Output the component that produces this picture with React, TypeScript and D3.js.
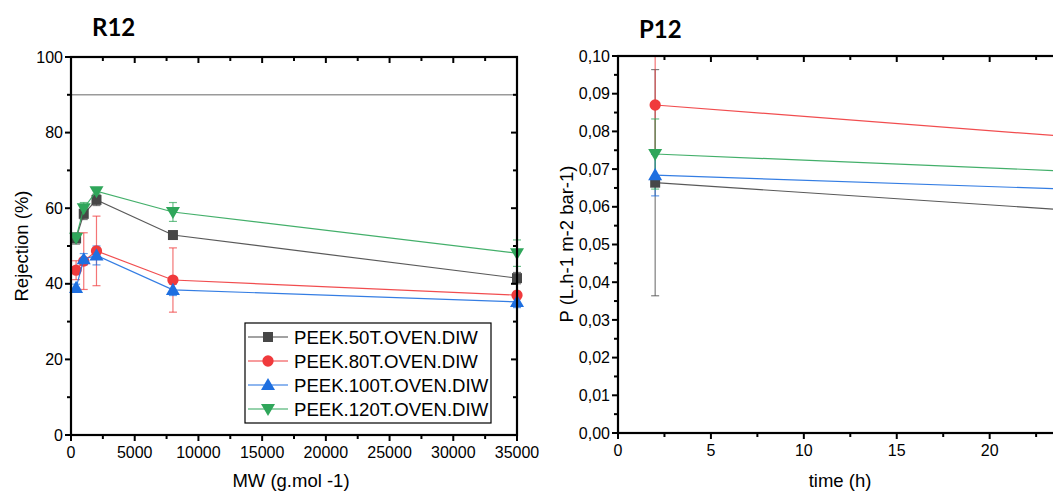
import React from "react";
import * as d3 from "d3";

// ---------- data ----------
const seriesNames = ["PEEK.50T.OVEN.DIW", "PEEK.80T.OVEN.DIW", "PEEK.100T.OVEN.DIW", "PEEK.120T.OVEN.DIW"];
const seriesColors = ["#474747", "#f03a3c", "#1e6fe0", "#2fa65a"];
const seriesShapes = ["square", "circle", "triangleUp", "triangleDown"];

const mw = [400, 1000, 2000, 8000, 35000];
const rej50 = [52, 58.5, 62.2, 52.9, 41.5];
const rej80 = [43.6, 46, 48.7, 41, 37];
const rej100 = [38.9, 46.5, 47.5, 38.4, 35.2];
const rej120 = [52.2, 60, 64.5, 59, 48.1];
const err50 = [1.5, 1.5, 1.5, 0.8, 1.5];
const err80 = [2.5, 7.5, 9.2, 8.5, 1];
const err100 = [1, 1.5, 2.5, 1.5, 1.5];
const err120 = [1.2, 1.5, 0.8, 2.5, 3.5];
const rejLimit = 90;

const time = [2, 24];
const perm50 = [0.0664, 0.0592];
const perm80 = [0.087, 0.0787];
const perm100 = [0.0684, 0.0647];
const perm120 = [0.074, 0.0695];
const permErr50 = [0.03, 0];
const permErr80 = [0.013, 0];
const permErr100 = [0.0055, 0];
const permErr120 = [0.0093, 0];

const rejTicks = [0, 20, 40, 60, 80, 100];
const mwTicks = [0, 5000, 10000, 15000, 20000, 25000, 30000, 35000];
const permTicks = [0, 0.01, 0.02, 0.03, 0.04, 0.05, 0.06, 0.07, 0.08, 0.09, 0.1];
const timeTicks = [0, 5, 10, 15, 20];

const rejSeries = [rej50, rej80, rej100, rej120];
const rejErrs = [err50, err80, err100, err120];
const permSeries = [perm50, perm80, perm100, perm120];
const permErrs = [permErr50, permErr80, permErr100, permErr120];

const FONT = "'Liberation Sans', Arial, sans-serif";

function Marker({ shape, x, y, color }: { shape: string; x: number; y: number; color: string }) {
  if (shape === "square") {
    const p = d3.symbol().type(d3.symbolSquare).size(100)();
    return <path d={p || ""} transform={`translate(${x},${y})`} fill={color} />;
  }
  if (shape === "circle") {
    const p = d3.symbol().type(d3.symbolCircle).size(100)();
    return <path d={p || ""} transform={`translate(${x},${y})`} fill={color} />;
  }
  const p = d3.symbol().type(d3.symbolTriangle).size(85)();
  const rot = shape === "triangleDown" ? 180 : 0;
  return <path d={p || ""} transform={`translate(${x},${y + (rot ? -1 : 1)}) rotate(${rot})`} fill={color} />;
}

type AxisProps = {
  x: d3.ScaleLinear<number, number>;
  y: d3.ScaleLinear<number, number>;
  xTicks: number[];
  yTicks: number[];
  xFmt: (v: number) => string;
  yFmt: (v: number) => string;
};

function Frame({ x, y, xTicks, yTicks, xFmt, yFmt }: AxisProps) {
  const [x0, x1] = x.range();
  const [y0, y1] = y.range(); // y0 bottom, y1 top
  const xStep = xTicks[1] - xTicks[0];
  const yStep = yTicks[1] - yTicks[0];
  const xMinor: number[] = [];
  for (let v = xTicks[0] + xStep / 2; v <= x.domain()[1] + 1e-9; v += xStep) xMinor.push(v);
  const yMinor: number[] = [];
  for (let v = yTicks[0] + yStep / 2; v <= y.domain()[1] + 1e-9; v += yStep) yMinor.push(v);
  return (
    <g>
      {xTicks.map((v) => (
        <line key={"bx" + v} x1={x(v)} x2={x(v)} y1={y0} y2={y0 + 6} stroke="#000" strokeWidth={2} />
      ))}
      {xMinor.map((v) => (
        <line key={"bxm" + v} x1={x(v)} x2={x(v)} y1={y0} y2={y0 + 4} stroke="#000" strokeWidth={2} />
      ))}
      {xTicks.map((v) => (
        <line key={"tx" + v} x1={x(v)} x2={x(v)} y1={y1} y2={y1 + 6} stroke="#000" strokeWidth={2} />
      ))}
      {xMinor.map((v) => (
        <line key={"txm" + v} x1={x(v)} x2={x(v)} y1={y1} y2={y1 + 4} stroke="#000" strokeWidth={2} />
      ))}
      {yTicks.map((v) => (
        <line key={"ly" + v} x1={x0 - 6} x2={x0} y1={y(v)} y2={y(v)} stroke="#000" strokeWidth={2} />
      ))}
      {yMinor.map((v) => (
        <line key={"lym" + v} x1={x0 - 4} x2={x0} y1={y(v)} y2={y(v)} stroke="#000" strokeWidth={2} />
      ))}
      {yTicks.map((v) => (
        <line key={"ry" + v} x1={x1 - 6} x2={x1} y1={y(v)} y2={y(v)} stroke="#000" strokeWidth={2} />
      ))}
      {yMinor.map((v) => (
        <line key={"rym" + v} x1={x1 - 4} x2={x1} y1={y(v)} y2={y(v)} stroke="#000" strokeWidth={2} />
      ))}
      <rect x={x0} y={y1} width={x1 - x0} height={y0 - y1} fill="none" stroke="#000" strokeWidth={2.2} />
      {xTicks.map((v) => (
        <text key={"xl" + v} x={x(v)} y={y0 + 23} textAnchor="middle" fontSize={16} fontFamily={FONT} fill="#000">
          {xFmt(v)}
        </text>
      ))}
      {yTicks.map((v) => (
        <text key={"yl" + v} x={x0 - 8} y={y(v)} dy="0.35em" textAnchor="end" fontSize={16} fontFamily={FONT} fill="#000">
          {yFmt(v)}
        </text>
      ))}
    </g>
  );
}

export default function App() {
  const W = 1053;
  const H = 493;

  const xL = d3.scaleLinear().domain([0, 35000]).range([71, 517]);
  const yL = d3.scaleLinear().domain([0, 100]).range([435, 57]);
  const xR = d3.scaleLinear().domain([0, 24]).range([618, 1064]);
  const yR = d3.scaleLinear().domain([0, 0.1]).range([433, 56]);

  const lineL = d3
    .line<number>()
    .x((_, i) => xL(mw[i]))
    .y((d) => yL(d));
  const lineR = d3
    .line<number>()
    .x((_, i) => xR(time[i]))
    .y((d) => yR(d));

  const capW = 4;

  return (
    <svg width={W} height={H} style={{ position: "absolute", left: 0, top: 0, background: "#fff" }}>
      <rect x={0} y={0} width={W} height={H} fill="#fff" />
      {/* ===== left chart ===== */}
      <text x={92} y={36} fontSize={24} fontWeight={700} fontFamily="Lato, 'Open Sans', sans-serif" fill="#000">
        R12
      </text>
      <line x1={xL(0)} x2={xL(35000)} y1={yL(rejLimit)} y2={yL(rejLimit)} stroke="#9a9a9a" strokeWidth={1.5} />
      {rejSeries.map((s, si) => (
        <g key={"le" + si} stroke={seriesColors[si]} strokeOpacity={0.7} strokeWidth={1.2}>
          {s.map((v, i) => {
            const e = rejErrs[si][i];
            const cx = xL(mw[i]);
            return (
              <g key={i}>
                <line x1={cx} x2={cx} y1={yL(v - e)} y2={yL(v + e)} />
                <line x1={cx - capW} x2={cx + capW} y1={yL(v - e)} y2={yL(v - e)} />
                <line x1={cx - capW} x2={cx + capW} y1={yL(v + e)} y2={yL(v + e)} />
              </g>
            );
          })}
        </g>
      ))}
      {rejSeries.map((s, si) => (
        <g key={"ls" + si}>
          <path d={lineL(s) || ""} fill="none" stroke={seriesColors[si]} strokeWidth={1.2} strokeOpacity={0.9} />
          {s.map((v, i) => (
            <Marker key={i} shape={seriesShapes[si]} x={xL(mw[i])} y={yL(v)} color={seriesColors[si]} />
          ))}
        </g>
      ))}
      <Frame x={xL} y={yL} xTicks={mwTicks} yTicks={rejTicks} xFmt={(v) => String(v)} yFmt={(v) => String(v)} />
      <text x={291} y={487} textAnchor="middle" fontSize={18.5} fontFamily={FONT} fill="#000">
        MW (g.mol -1)
      </text>
      <text transform={`translate(28,246) rotate(-90)`} textAnchor="middle" fontSize={18.5} fontFamily={FONT} fill="#000">
        Rejection (%)
      </text>
      {/* legend */}
      <g>
        <rect x={245} y={323} width={246} height={100} fill="#fff" stroke="#000" strokeWidth={1.2} />
        {seriesNames.map((n, i) => {
          const cy = 337 + i * 24;
          return (
            <g key={n}>
              <line x1={248} x2={288} y1={cy} y2={cy} stroke={seriesColors[i]} strokeWidth={1.2} />
              <Marker shape={seriesShapes[i]} x={268} y={cy} color={seriesColors[i]} />
              <text x={294} y={cy} dy="0.36em" fontSize={18.6} fontFamily={FONT} fill="#000">
                {n}
              </text>
            </g>
          );
        })}
      </g>

      {/* ===== right chart ===== */}
      <text x={639} y={38} fontSize={24} fontWeight={700} fontFamily="Lato, 'Open Sans', sans-serif" fill="#000">
        P12
      </text>
      {permSeries.map((s, si) => (
        <g key={"re" + si} stroke={seriesColors[si]} strokeOpacity={0.7} strokeWidth={1.2}>
          {s.map((v, i) => {
            const e = permErrs[si][i];
            if (!e) return null;
            const cx = xR(time[i]);
            const top = Math.min(v + e, 0.1);
            return (
              <g key={i}>
                <line x1={cx} x2={cx} y1={yR(v - e)} y2={yR(top)} />
                <line x1={cx - capW} x2={cx + capW} y1={yR(v - e)} y2={yR(v - e)} />
                <line x1={cx - capW} x2={cx + capW} y1={yR(top)} y2={yR(top)} />
              </g>
            );
          })}
        </g>
      ))}
      {permSeries.map((s, si) => (
        <g key={"rs" + si}>
          <path d={lineR(s) || ""} fill="none" stroke={seriesColors[si]} strokeWidth={1.2} strokeOpacity={0.9} />
          {s.map((v, i) => (
            <Marker key={i} shape={seriesShapes[si]} x={xR(time[i])} y={yR(v)} color={seriesColors[si]} />
          ))}
        </g>
      ))}
      <Frame
        x={xR}
        y={yR}
        xTicks={timeTicks}
        yTicks={permTicks}
        xFmt={(v) => String(v)}
        yFmt={(v) => v.toFixed(2).replace(".", ",")}
      />
      <text x={840} y={487} textAnchor="middle" fontSize={18.5} fontFamily={FONT} fill="#000">
        time (h)
      </text>
      <text transform={`translate(573,244) rotate(-90)`} textAnchor="middle" fontSize={18.5} fontFamily={FONT} fill="#000">
        P (L.h-1 m-2 bar-1)
      </text>
    </svg>
  );
}
